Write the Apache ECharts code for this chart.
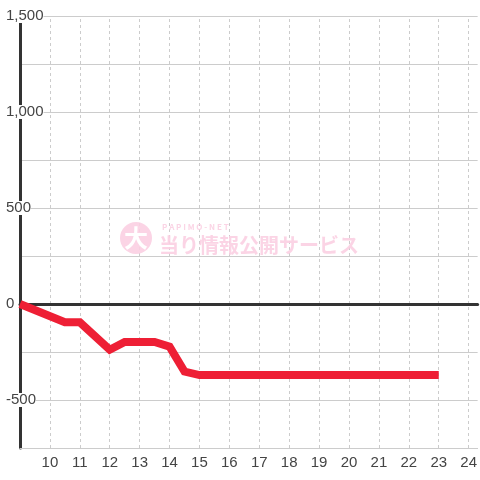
<!DOCTYPE html>
<html>
<head>
<meta charset="utf-8">
<script src="https://cdn.jsdelivr.net/npm/echarts@6/dist/echarts.min.js"></script>
<style>
html,body{margin:0;padding:0;background:#fff;}
#chart{width:480px;height:480px;}
</style>
</head>
<body>
<div id="chart"></div>
<script>
// Data (hour of day, cumulative value)
var hours  = [9, 10.5, 11, 12, 12.5, 13.5, 14, 14.5, 15, 23];
var values = [0, -95, -95, -238, -198, -198, -222, -352, -370, -370];
var yTickLabels = [-500, 0, 500, 1000, 1500];
var xTickLabels = [10, 11, 12, 13, 14, 15, 16, 17, 18, 19, 20, 21, 22, 23, 24];

var seriesData = hours.map(function (h, i) { return [h, values[i]]; });

var chart = echarts.init(document.getElementById('chart'), null, {renderer: 'canvas'});
var font = 'Liberation Sans, Arial, sans-serif';

chart.setOption({
  animation: false,
  backgroundColor: '#ffffff',
  grid: {left: 20, right: 0, top: 16, bottom: 32, containLabel: false},
  xAxis: [{
    type: 'value', min: 9, max: 24.3, interval: 1, position: 'bottom',
    axisLine: {show: true, onZero: false, lineStyle: {color: '#cccccc', width: 1}},
    axisTick: {show: false},
    axisLabel: {
      color: '#444', fontSize: 15, fontFamily: font, margin: 7, hideOverlap: false,
      showMinLabel: false, showMaxLabel: false,
      formatter: function (v) { return xTickLabels.indexOf(v) >= 0 ? String(v) : ''; }
    },
    splitLine: {show: false}
  }, {
    type: 'value', min: 9, max: 24.3, interval: 1, position: 'top',
    axisLine: {show: true, onZero: true, lineStyle: {color: '#333333', width: 3}},
    axisTick: {show: false}, axisLabel: {show: false}, splitLine: {show: false}
  }],
  yAxis: {
    type: 'value', min: -750, max: 1500, interval: 250,
    axisLine: {show: true, lineStyle: {color: '#333333', width: 3}},
    axisTick: {show: false},
    axisLabel: {
      color: '#444', fontSize: 15, fontFamily: font, align: 'left', margin: 14,
      backgroundColor: '#ffffff', lineHeight: 14, hideOverlap: false,
      formatter: function (v) {
        return yTickLabels.indexOf(v) >= 0 ? v.toLocaleString('en-US') : '';
      }
    },
    splitLine: {show: true, lineStyle: {color: '#cccccc', width: 1}}
  },
  graphic: [
    {type: 'circle', z: 1, shape: {cx: 136, cy: 238, r: 16}, style: {fill: '#fbcfe2', opacity: 0.9}},
    {type: 'text', z: 1, style: {x: 136, y: 238, text: '大', fill: '#ffffff', font: 'bold 24px "Noto Sans CJK JP"', textAlign: 'center', textVerticalAlign: 'middle'}},
    {type: 'text', z: 1, style: {x: 162, y: 227, text: 'P A P I M O - N E T', fill: '#fbcfe2', font: 'bold 8px "Noto Sans CJK JP"', textAlign: 'left', textVerticalAlign: 'middle', opacity: 0.9}},
    {type: 'text', z: 1, style: {x: 159, y: 245, text: '当り情報公開サービス', fill: '#fbcfe2', font: 'bold 20px "Noto Sans CJK JP"', textAlign: 'left', textVerticalAlign: 'middle', opacity: 0.9}}
  ],
  series: [{
    type: 'line', xAxisIndex: 0, yAxisIndex: 0, data: [],
    symbol: 'none', z: 0, silent: true,
    markLine: {
      silent: true, symbol: 'none', z: 0, animation: false,
      label: {show: false},
      lineStyle: {color: '#cccccc', type: [3, 3], width: 1},
      emphasis: {disabled: true},
      data: xTickLabels.map(function (h) { return {xAxis: h}; })
    }
  }, {
    type: 'line', xAxisIndex: 0, yAxisIndex: 0, data: seriesData,
    symbol: 'none', z: 3,
    lineStyle: {color: '#ee1f35', width: 8, cap: 'butt', join: 'miter'}
  }]
});
</script>
</body>
</html>
